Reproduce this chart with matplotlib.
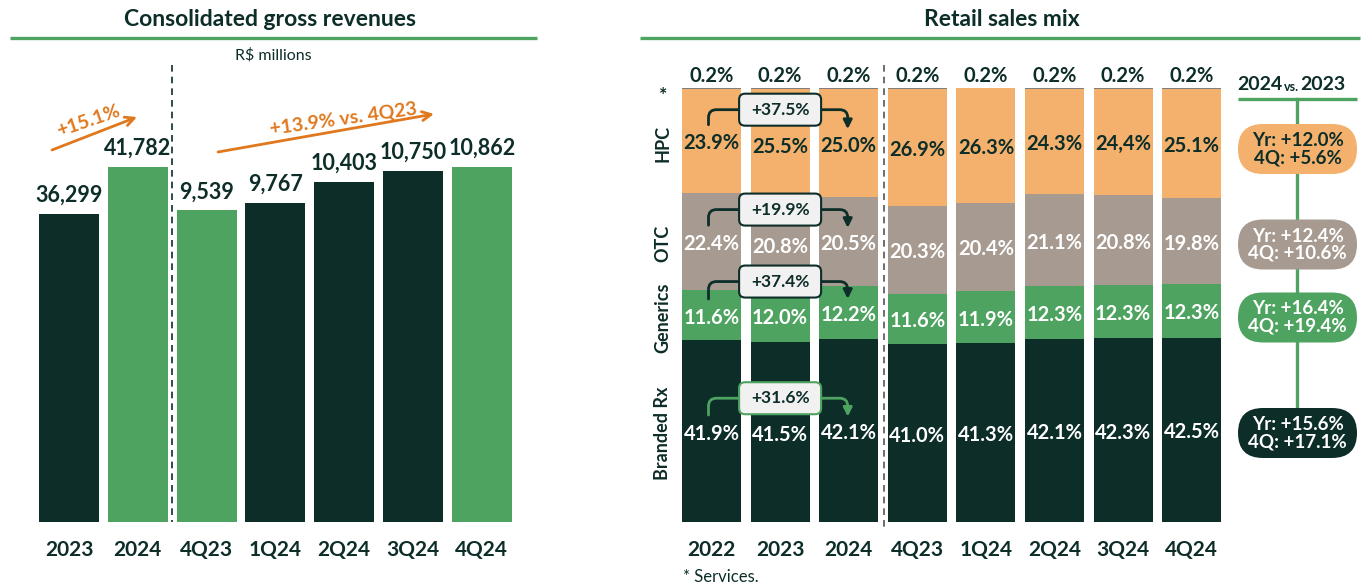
import matplotlib
matplotlib.use('Agg')
import matplotlib.pyplot as plt
from matplotlib.patches import FancyBboxPatch

# ---------------- data ----------------
rev_labels = ['2023', '2024', '4Q23', '1Q24', '2Q24', '3Q24', '4Q24']
annual_rev = [36299, 41782]
quarter_rev = [9539, 9767, 10403, 10750, 10862]
annual_growth = '+15.1%'
quarter_growth = '+13.9% vs. 4Q23'

periods = ['2022', '2023', '2024', '4Q23', '1Q24', '2Q24', '3Q24', '4Q24']
branded = [41.9, 41.5, 42.1, 41.0, 41.3, 42.1, 42.3, 42.5]
generics = [11.6, 12.0, 12.2, 11.6, 11.9, 12.3, 12.3, 12.3]
otc = [22.4, 20.8, 20.5, 20.3, 20.4, 21.1, 20.8, 19.8]
hpc = [23.9, 25.5, 25.0, 26.9, 26.3, 24.3, 24.4, 25.1]
services = [0.2, 0.2, 0.2, 0.2, 0.2, 0.2, 0.2, 0.2]
hpc_text = ['23.9%', '25.5%', '25.0%', '26.9%', '26.3%', '24.3%', '24,4%', '25.1%']

segments = ['Branded Rx', 'Generics', 'OTC', 'HPC']
growth_22_24 = ['+31.6%', '+37.4%', '+19.9%', '+37.5%']
yr_growth = ['+15.6%', '+16.4%', '+12.4%', '+12.0%']
q4_growth = ['+17.1%', '+19.4%', '+10.6%', '+5.6%']

# ---------------- style ----------------
W, H = 1365, 588
DARK = '#0D2D29'
GREEN = '#4DA35F'
PEACH = '#F3B16D'
TAUPE = '#A79A90'
ORANGE = '#E0781E'
SERV = '#7F7F7F'
BOXBG = '#F1F1F1'

plt.rcParams['font.family'] = ['Lato', 'DejaVu Sans']

fig = plt.figure(figsize=(W / 100, H / 100), dpi=100)


def frame(x0, y_top, x1, y_bot):
    return [x0 / W, 1 - y_bot / H, (x1 - x0) / W, (y_bot - y_top) / H]


# ---------------- left chart ----------------
axL = fig.add_axes(frame(30, 100, 520, 522))
axL.set_facecolor('none')
axQ = axL.twinx()
axQ.set_facecolor('none')
c0, sp = 69, 68.8
axL.set_xlim((30 - c0) / sp, (520 - c0) / sp)
axL.set_ylim(0, 41782 * 422 / 355)
axQ.set_ylim(0, 10862 * 422 / 355)

bw = 60 / sp
ann_colors = [DARK, GREEN]
q_colors = [GREEN, DARK, DARK, DARK, GREEN]
ann_x = [0, 1]
q_x = [2, 3, 4, 5, 6]
axL.bar(ann_x, annual_rev, width=bw, color=ann_colors)
axQ.bar(q_x, quarter_rev, width=bw, color=q_colors)
for x, v in zip(ann_x, annual_rev):
    axL.annotate(f'{v:,}', (x, v), xytext=(0, 8.5), textcoords='offset points',
                 ha='center', va='baseline', fontsize=15.5, fontweight='bold', color=DARK)
for x, v in zip(q_x, quarter_rev):
    axQ.annotate(f'{v:,}', (x, v), xytext=(0, 8.5), textcoords='offset points',
                 ha='center', va='baseline', fontsize=15.5, fontweight='bold', color=DARK)

axL.set_xticks(range(len(rev_labels)))
axL.set_xticklabels(rev_labels, fontsize=15, fontweight='bold', color=DARK)
axL.tick_params(axis='x', length=0, pad=13)
axL.set_yticks([])
axQ.set_yticks([])
for a in (axL, axQ):
    for s in a.spines.values():
        s.set_visible(False)

# ---------------- right chart ----------------
axR = fig.add_axes(frame(670, 88, 1232, 522))
axR.set_facecolor('none')
r0, rsp = 711.5, 68.6
axR.set_xlim((670 - r0) / rsp, (1232 - r0) / rsp)
axR.set_ylim(0, 100)
rbw = 59 / rsp
xs = list(range(len(periods)))

stack = [(branded, DARK), (generics, GREEN), (otc, TAUPE), (hpc, PEACH), (services, SERV)]
bottoms = [0.0] * len(xs)
centers = []
for vals, col in stack:
    axR.bar(xs, vals, bottom=bottoms, width=rbw, color=col, linewidth=0)
    centers.append([b + v / 2 for b, v in zip(bottoms, vals)])
    bottoms = [b + v for b, v in zip(bottoms, vals)]

seg_texts = [[f'{v:.1f}%' for v in branded],
             [f'{v:.1f}%' for v in generics],
             [f'{v:.1f}%' for v in otc],
             hpc_text]
seg_tcol = ['white', 'white', 'white', DARK]
for k in range(4):
    for i in xs:
        axR.text(i, centers[k][i] - 0.6, seg_texts[k][i], ha='center', va='center',
                 fontsize=14.5, fontweight='bold', color=seg_tcol[k])
for i in xs:
    axR.annotate(f'{services[i]:.1f}%', (i, 100), xytext=(0, 4), textcoords='offset points',
                 ha='center', va='baseline', fontsize=14.5, fontweight='bold', color=DARK,
                 annotation_clip=False)

axR.set_xticks(xs)
axR.set_xticklabels(periods, fontsize=15, fontweight='bold', color=DARK)
axR.tick_params(axis='x', length=0, pad=13)
axR.set_yticks([])
for s in axR.spines.values():
    s.set_visible(False)

# ---------------- overlay (pixel coordinates) ----------------
ov = fig.add_axes([0, 0, 1, 1])
ov.set_xlim(0, W)
ov.set_ylim(H, 0)
ov.axis('off')
ov.set_zorder(10)
ov.patch.set_alpha(0)


def to_px(ax, x, y):
    d = ax.transData.transform((x, y))
    return d[0], H - d[1]


# titles
ov.text(270, 20, 'Consolidated gross revenues', ha='center', va='center',
        fontsize=16.5, fontweight='bold', color=DARK)
ov.plot([10, 537], [38, 38], color=GREEN, lw=2.4, solid_capstyle='butt')
ov.text(273, 55, 'R$ millions', ha='center', va='center', fontsize=11.5, color=DARK)
ov.text(1002, 20, 'Retail sales mix', ha='center', va='center',
        fontsize=16.5, fontweight='bold', color=DARK)
ov.plot([640, 1360], [38, 38], color=GREEN, lw=2.4, solid_capstyle='butt')

# dashed separators
ov.plot([172, 172], [65, 522], color=DARK, lw=1.2, ls=(0, (4, 3)))
ov.plot([884, 884], [65, 530], color='#555555', lw=1.2, ls=(0, (4, 3)))

# orange growth arrows
ov.annotate('', xy=(137, 117), xytext=(52, 150),
            arrowprops=dict(arrowstyle='->', color=ORANGE, lw=2, mutation_scale=16,
                            shrinkA=0, shrinkB=0))
ov.text(88, 121, annual_growth, ha='center', va='center', rotation=19,
        rotation_mode='anchor', fontsize=14, fontweight='bold', color=ORANGE)
ov.annotate('', xy=(434, 114), xytext=(218, 152),
            arrowprops=dict(arrowstyle='->', color=ORANGE, lw=2, mutation_scale=16,
                            shrinkA=0, shrinkB=0))
ov.text(343, 119, quarter_growth, ha='center', va='center', rotation=8,
        rotation_mode='anchor', fontsize=14, fontweight='bold', color=ORANGE)

# row labels of mix chart
row_y = {'Branded Rx': 433, 'Generics': 318, 'OTC': 243, 'HPC': 143}
for name, yy in row_y.items():
    ov.text(663, yy, name, rotation=90, ha='center', va='center',
            fontsize=13, fontweight='bold', color=DARK)
ov.text(663, 95, '*', ha='center', va='center', fontsize=14, fontweight='bold', color=DARK)

# growth brackets 2022 -> 2024
for k in range(4):
    col = GREEN if k == 0 else DARK
    xa, ya = to_px(axR, 0, centers[k][0])
    xb, yb_ = to_px(axR, 1, centers[k][1])
    xc, yc = to_px(axR, 2, centers[k][2])
    ybox = (ya + yb_ + yc) / 3 - 33
    bw_px, bh_px = 82, 32
    ov.annotate('', xy=(xb - bw_px / 2, ybox), xytext=(xa - 3, ya - 16),
                arrowprops=dict(arrowstyle='-', color=col, lw=2,
                                connectionstyle='angle,angleA=90,angleB=0,rad=8',
                                shrinkA=0, shrinkB=0))
    ov.annotate('', xy=(xc - 1, yc - 14), xytext=(xb + bw_px / 2, ybox),
                arrowprops=dict(arrowstyle='-|>', color=col, lw=2, mutation_scale=13,
                                connectionstyle='angle,angleA=0,angleB=90,rad=8',
                                shrinkA=0, shrinkB=0))
    ov.add_patch(FancyBboxPatch((xb - bw_px / 2, ybox - bh_px / 2), bw_px, bh_px,
                                boxstyle='round,pad=0,rounding_size=6',
                                fc=BOXBG, ec=col, lw=1.5, zorder=5))
    ov.text(xb, ybox, growth_22_24[k], ha='center', va='center', fontsize=12.5,
            fontweight='bold', color=DARK, zorder=6)

# right side: 2024 vs. 2023 pills
ov.text(1282, 85, '2024', ha='right', va='center', fontsize=14, fontweight='bold', color=DARK)
ov.text(1291.5, 87, 'vs.', ha='center', va='center', fontsize=9, fontweight='bold', color=DARK)
ov.text(1300, 85, '2023', ha='left', va='center', fontsize=14, fontweight='bold', color=DARK)
ov.plot([1238, 1357], [99, 99], color=GREEN, lw=2.4, solid_capstyle='butt')
ov.plot([1297, 1297], [99, 433], color=GREEN, lw=2.4, zorder=1)

pill_y = [433, 317.5, 244.5, 149]
pill_fc = [DARK, GREEN, TAUPE, PEACH]
pill_tc = ['white', 'white', 'white', DARK]
for k in range(4):
    ph = 50
    ov.add_patch(FancyBboxPatch((1238, pill_y[k] - ph / 2), 119, ph,
                                boxstyle=f'round,pad=0,rounding_size={ph / 2}',
                                fc=pill_fc[k], ec='none', zorder=3))
    ov.text(1297.5, pill_y[k], f'Yr: {yr_growth[k]}\n4Q: {q4_growth[k]}', ha='center',
            va='center', fontsize=13.5, fontweight='bold', color=pill_tc[k],
            linespacing=1.0, zorder=4)

ov.text(683, 577, '* Services.', ha='left', va='center', fontsize=12, color=DARK)

fig.savefig('out.png', dpi=100)
